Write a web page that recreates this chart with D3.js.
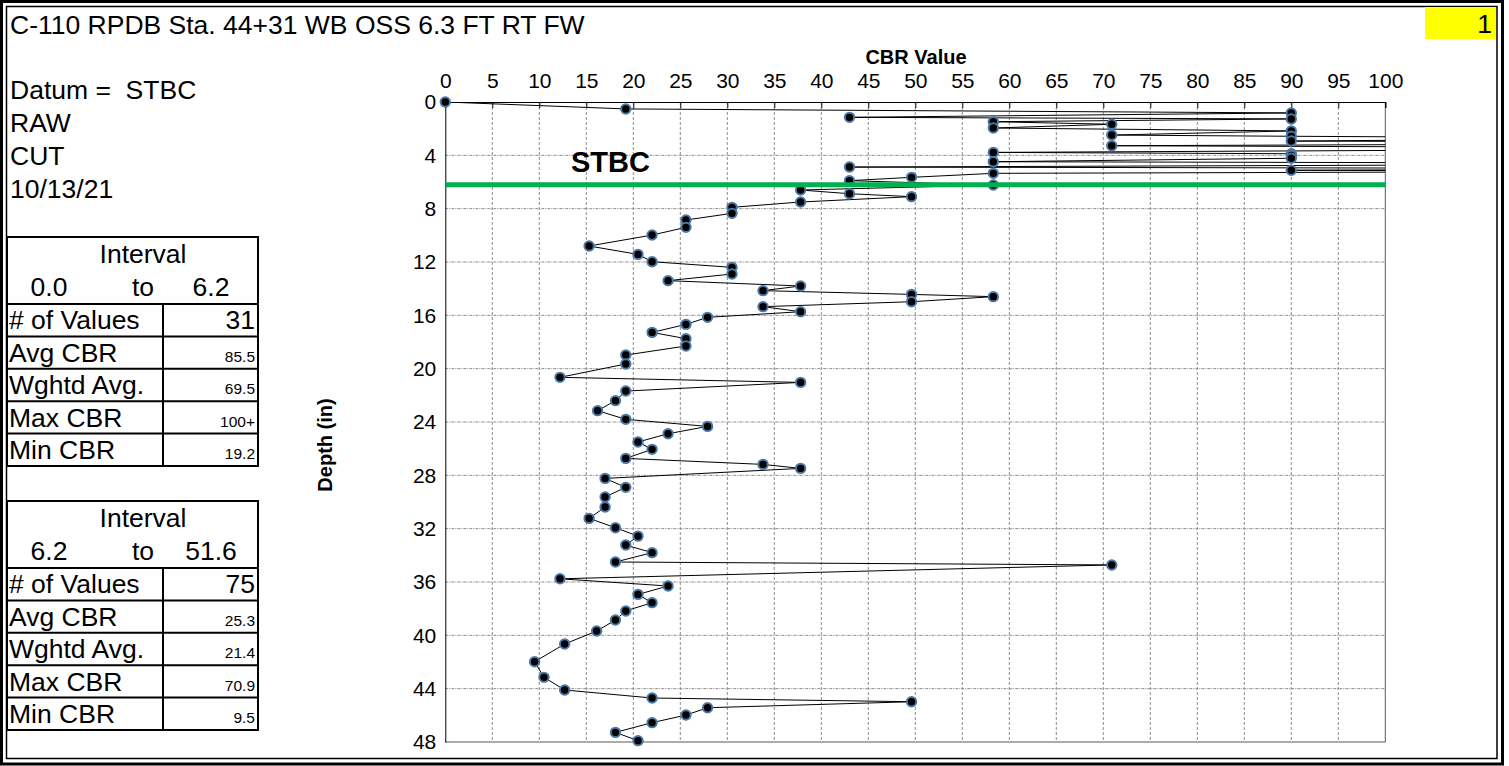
<!DOCTYPE html>
<html>
<head>
<meta charset="utf-8">
<script src="https://cdn.jsdelivr.net/npm/d3@7"></script>
<style>
  body { margin: 0; background: #fff; }
  svg { display: block; }
  text { font-family: "Liberation Sans", Arial, sans-serif; fill: #000; white-space: pre; }
</style>
</head>
<body>
<svg id="chart" width="1509" height="766"></svg>
<script>
// ---- Sounding data: depth below datum (in) and CBR reading ----
const depthIn = [
  0.00, 0.52, 0.82, 1.15, 1.27, 1.48, 1.67, 1.95, 2.17, 2.48,
  2.57, 2.72, 2.93, 3.05, 3.15, 3.28, 3.45, 3.60, 3.78, 3.88,
  4.00, 4.22, 4.48, 4.62, 4.88, 5.00, 5.12, 5.20, 5.35, 5.65,
  5.90, 6.23,
  6.60, 6.88, 7.10, 7.50, 7.90, 8.35, 8.85, 9.40, 9.98, 10.80,
  11.43, 11.98, 12.40, 12.90, 13.40, 13.80, 14.15, 14.43, 14.60, 14.98,
  15.35, 15.73, 16.15, 16.68, 17.28, 17.75, 18.30, 18.98, 19.65, 20.65,
  21.03, 21.68, 22.40, 23.15, 23.80, 24.33, 24.88, 25.50, 26.05, 26.73,
  27.18, 27.48, 28.23, 28.90, 29.62, 30.38, 31.23, 31.93, 32.56, 33.23,
  33.80, 34.50, 34.72, 35.76, 36.30, 36.93, 37.55, 38.17, 38.85, 39.68,
  40.65, 41.98, 43.15, 44.10, 44.70, 44.98, 45.43, 45.98, 46.55, 47.28,
  47.90, 48.60, 49.90, 51.60
];
const cbrValue = [
  0.0, 19.2, 90.0, 43.0, 90.0, 58.3, 70.9, 58.3, 90.0, 70.9,
  90.0, 130, 90.0, 160, 120, 70.9, 140, 110, 58.3, 90.0,
  90.0, 90.0, 58.3, 150, 43.0, 140, 90.0, 130, 58.3, 49.6,
  43.0, 58.3,
  37.8, 43.0, 49.6, 37.8, 30.5, 30.5, 25.6, 25.6, 22.0, 15.3,
  20.5, 22.0, 30.5, 30.5, 23.7, 37.8, 33.8, 49.6, 58.3, 49.6,
  33.8, 37.8, 27.9, 25.6, 22.0, 25.6, 25.6, 19.2, 19.2, 12.2,
  37.8, 19.2, 18.1, 16.2, 19.2, 27.9, 23.7, 20.5, 22.0, 19.2,
  33.8, 37.8, 17.0, 19.2, 17.0, 17.0, 15.3, 18.1, 20.5, 19.2,
  22.0, 18.1, 70.9, 12.2, 23.7, 20.5, 22.0, 19.2, 18.1, 16.1,
  12.7, 9.5, 10.5, 12.7, 22.0, 49.6, 27.9, 25.6, 22.0, 18.1,
  20.5, 23.7, 19.2, 22.0
];

// ---- Axis ticks and reference line ----
const cbrTicks = d3.range(0, 101, 5);
const depthTicks = d3.range(0, 49, 4);
const datumDepth = 6.2;
const datumLabel = "STBC";

// ---- Header text ----
const titleText = "C-110 RPDB Sta. 44+31 WB OSS 6.3 FT RT FW";
const pageNumber = "1";
const headerLines = ["Datum =  STBC", "RAW", "CUT", "10/13/21"];

// ---- Interval summary tables ----
const statLabels = ["# of Values", "Avg CBR", "Wghtd Avg.", "Max CBR", "Min CBR"];
const interval1Range = ["0.0", "to", "6.2"];
const interval1Values = ["31", "85.5", "69.5", "100+", "19.2"];
const interval2Range = ["6.2", "to", "51.6"];
const interval2Values = ["75", "25.3", "21.4", "70.9", "9.5"];

const svg = d3.select("#chart");
const bigFont = 26.5;

// Page frame (double rule)
svg.append("rect").attr("x", 1.5).attr("y", 1.5).attr("width", 1501).attr("height", 762.5)
  .attr("fill", "none").attr("stroke", "#000").attr("stroke-width", 3);
svg.append("rect").attr("x", 6.5).attr("y", 6.5).attr("width", 1490.5).attr("height", 752)
  .attr("fill", "none").attr("stroke", "#000").attr("stroke-width", 1.5);

// Page number badge
svg.append("rect").attr("x", 1425).attr("y", 7).attr("width", 71).attr("height", 32).attr("fill", "#ffff00");
svg.append("text").attr("x", 1492).attr("y", 33).attr("text-anchor", "end")
  .attr("font-size", bigFont).text(pageNumber);

// Title + header block
svg.append("text").attr("x", 10).attr("y", 34).attr("font-size", bigFont).text(titleText);
svg.selectAll("text.hdr").data(headerLines).join("text").attr("class", "hdr")
  .attr("x", 10).attr("y", (d, i) => 99 + i * 33).attr("font-size", bigFont).text(d => d);

// Summary tables
function drawTable(top, range, values) {
  const g = svg.append("g");
  const left = 7, right = 258, split = 163, headH = 67, rowH = 32.4;
  const bottom = top + headH + rowH * statLabels.length;
  g.append("rect").attr("x", left).attr("y", top).attr("width", right - left).attr("height", bottom - top)
    .attr("fill", "#fff").attr("stroke", "#000").attr("stroke-width", 2);
  statLabels.forEach((lab, i) => {
    const y0 = top + headH + i * rowH;
    g.append("line").attr("x1", left).attr("x2", right).attr("y1", y0).attr("y2", y0)
      .attr("stroke", "#000").attr("stroke-width", 2);
    g.append("text").attr("x", 9).attr("y", y0 + rowH - 7).attr("font-size", bigFont).text(lab);
    g.append("text").attr("x", 255).attr("y", y0 + rowH - 7).attr("text-anchor", "end")
      .attr("font-size", i === 0 ? bigFont : 15.5).text(values[i]);
  });
  g.append("line").attr("x1", split).attr("x2", split).attr("y1", top + headH).attr("y2", bottom)
    .attr("stroke", "#000").attr("stroke-width", 2);
  g.append("text").attr("x", 143).attr("y", top + 26).attr("text-anchor", "middle").attr("font-size", bigFont).text("Interval");
  [49, 143, 211].forEach((cx, i) => {
    g.append("text").attr("x", cx).attr("y", top + 59).attr("text-anchor", "middle")
      .attr("font-size", bigFont).text(range[i]);
  });
}
drawTable(237, interval1Range, interval1Values);
drawTable(501, interval2Range, interval2Values);

// ---- Plot ----
const x = d3.scaleLinear().domain([0, 100]).range([445.3, 1385.3]);
const y = d3.scaleLinear().domain([0, 48]).range([102, 742]);

svg.append("defs").append("clipPath").attr("id", "plotClip")
  .append("rect").attr("x", x(0)).attr("y", y(0)).attr("width", x(100) - x(0)).attr("height", y(48) - y(0));

// Gridlines
const grid = svg.append("g");
grid.selectAll("line.v").data(cbrTicks.filter(t => t > 0 && t < 100)).join("line").attr("class", "v")
  .attr("x1", d => x(d)).attr("x2", d => x(d)).attr("y1", y(0)).attr("y2", y(48))
  .attr("stroke", "#8c8c8c").attr("stroke-width", 1).attr("stroke-dasharray", "3,2");
grid.selectAll("line.h").data(depthTicks.filter(t => t > 0 && t < 48)).join("line").attr("class", "h")
  .attr("x1", x(0)).attr("x2", x(100)).attr("y1", d => y(d)).attr("y2", d => y(d))
  .attr("stroke", "#8c8c8c").attr("stroke-width", 1).attr("stroke-dasharray", "3,1,1,1");

// Plot border
svg.append("line").attr("x1", x(100)).attr("x2", x(100)).attr("y1", y(0)).attr("y2", y(48)).attr("stroke", "#595959");
svg.append("line").attr("x1", x(0)).attr("x2", x(100)).attr("y1", y(48)).attr("y2", y(48)).attr("stroke", "#595959");

// Axes
const xAxis = d3.axisTop(x).tickValues(cbrTicks).tickSize(-6).tickPadding(14).tickFormat(d3.format("d"));
const gx = svg.append("g").attr("transform", `translate(0,${y(0)})`).call(xAxis);
gx.select(".domain").attr("stroke", "#000");
gx.selectAll(".tick line").attr("stroke", "#000");
gx.selectAll(".tick text").attr("font-size", 21).attr("font-family", null);

const yAxis = d3.axisLeft(y).tickValues(depthTicks).tickSize(0).tickPadding(9).tickFormat(d3.format("d"));
const gy = svg.append("g").attr("transform", `translate(${x(0)},0)`).call(yAxis);
gy.select(".domain").attr("stroke", "#000");
gy.selectAll(".tick text").attr("font-size", 21).attr("font-family", null);

svg.append("text").attr("x", 916).attr("y", 64).attr("text-anchor", "middle")
  .attr("font-size", 20).attr("font-weight", "bold").text("CBR Value");
svg.append("text").attr("transform", "translate(332,445) rotate(-90)").attr("text-anchor", "middle")
  .attr("font-size", 20).attr("font-weight", "bold").text("Depth (in)");

// Data line
const pts = depthIn.map((d, i) => ({ depth: d, cbr: cbrValue[i] }));
svg.append("path").datum(pts).attr("clip-path", "url(#plotClip)")
  .attr("fill", "none").attr("stroke", "#000").attr("stroke-width", 1)
  .attr("d", d3.line().x(d => x(d.cbr)).y(d => y(d.depth)));

// Markers (readings inside the axis range)
svg.selectAll("circle.pt").data(pts.filter(p => p.cbr <= 100 && p.depth <= 48)).join("circle").attr("class", "pt")
  .attr("cx", d => x(d.cbr)).attr("cy", d => y(d.depth)).attr("r", 4.7)
  .attr("fill", "#000").attr("stroke", "#4a78a8").attr("stroke-width", 2);

// Datum line
svg.append("line").attr("x1", x(0)).attr("x2", x(100)).attr("y1", y(datumDepth)).attr("y2", y(datumDepth))
  .attr("stroke", "#00b050").attr("stroke-width", 5);
svg.append("text").attr("x", 571).attr("y", 172).attr("font-family", "Lato, 'Open Sans', sans-serif")
  .attr("font-size", 29).attr("font-weight", "bold").text(datumLabel);
</script>
</body>
</html>
